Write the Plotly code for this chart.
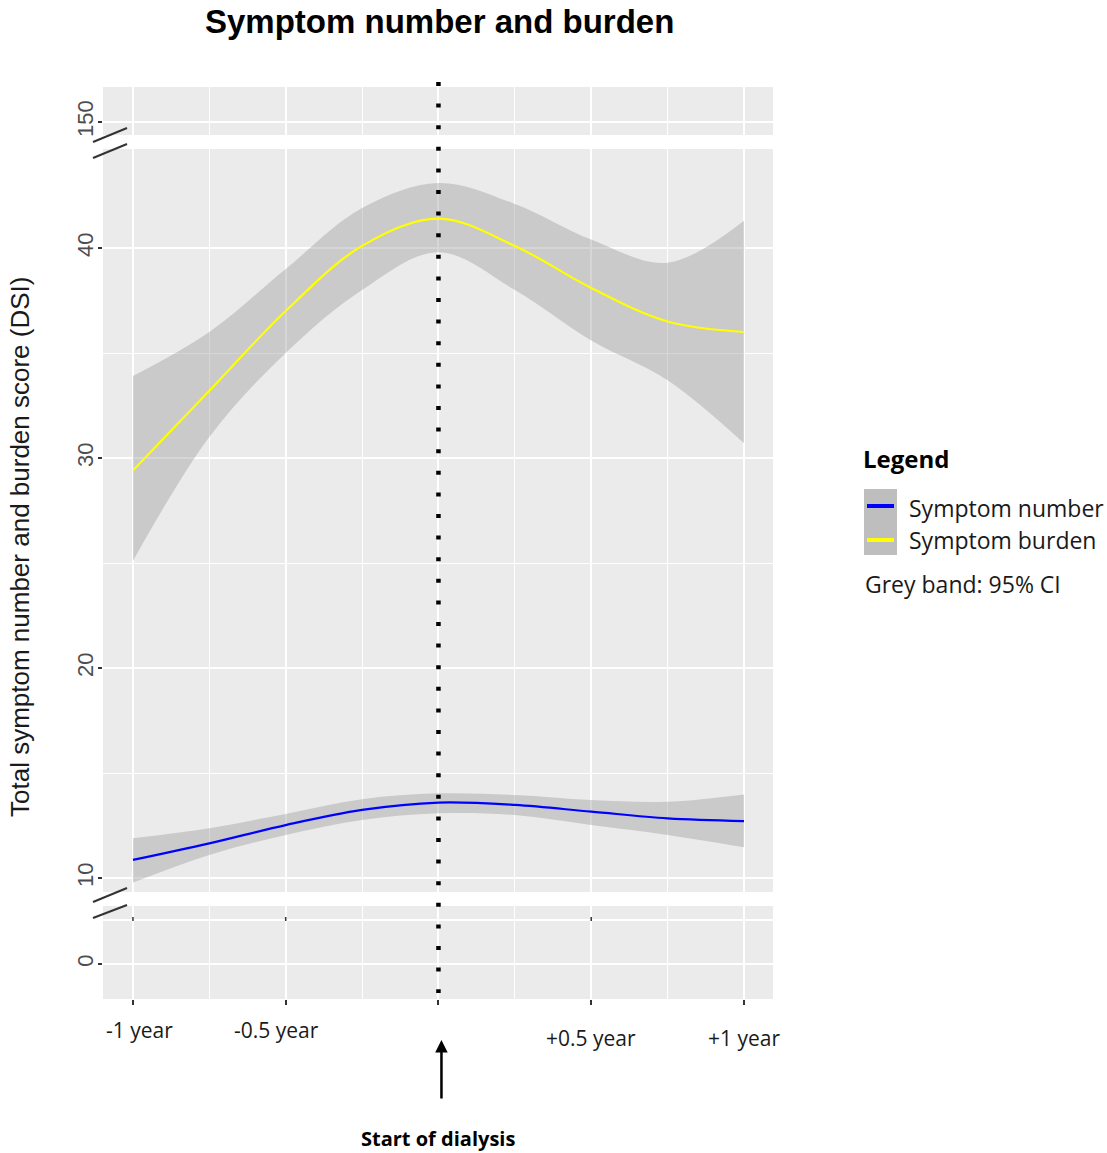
import plotly.graph_objects as go

# ---------------- data ----------------
x_years = [-1.0, -0.75, -0.5, -0.25, 0.0, 0.25, 0.5, 0.75, 1.0]

burden_fit = [29.4, 33.2, 37.0, 40.1, 41.4, 40.1, 38.1, 36.5, 36.0]
burden_upper = [33.9, 36.0, 39.0, 41.9, 43.1, 42.1, 40.4, 39.3, 41.3]
burden_lower = [25.1, 31.0, 35.0, 38.0, 39.8, 38.0, 35.6, 33.7, 30.7]

number_fit = [10.86, 11.65, 12.52, 13.24, 13.59, 13.48, 13.16, 12.84, 12.71]
number_upper = [11.89, 12.37, 13.05, 13.75, 14.03, 13.95, 13.71, 13.63, 13.98]
number_lower = [9.78, 11.10, 12.05, 12.76, 13.08, 13.00, 12.52, 12.05, 11.46]

x_tick_vals = [-1, -0.5, 0.5, 1]
x_tick_text = ["-1 year", "-0.5 year", "+0.5 year", "+1 year"]
y_top_ticks = [150]
y_mid_ticks = [10, 20, 30, 40]
y_bot_ticks = [0]

series_names = ["Symptom number", "Symptom burden"]
series_colors = ["#0000FF", "#FFFF00"]

# ---------------- figure geometry ----------------
W, H = 1107, 1153
L, R, T, B = 103, 334, 87, 154
PW, PH = W - L - R, H - T - B


def px_x(p):
    return (p - L) / PW


def px_y(p):
    return (H - B - p) / PH


PANEL = "#EBEBEB"
BAND = "rgba(153,153,153,0.4)"
ARIAL = "Liberation Sans, Arial, sans-serif"
CAL = "Open Sans, sans-serif"

fig = go.Figure()


def band(xs, up, lo, yaxis):
    fig.add_trace(go.Scatter(x=xs, y=up, mode="lines", line=dict(width=0, shape="spline"),
                             hoverinfo="skip", showlegend=False, xaxis="x2", yaxis=yaxis))
    fig.add_trace(go.Scatter(x=xs, y=lo, mode="lines", line=dict(width=0, shape="spline"),
                             fill="tonexty", fillcolor=BAND, hoverinfo="skip",
                             showlegend=False, xaxis="x2", yaxis=yaxis))


band(x_years, burden_upper, burden_lower, "y2")
band(x_years, number_upper, number_lower, "y2")
fig.add_trace(go.Scatter(x=x_years, y=number_fit, mode="lines", name=series_names[0],
                         line=dict(color=series_colors[0], width=2.2, shape="spline"),
                         showlegend=False, xaxis="x2", yaxis="y2"))
fig.add_trace(go.Scatter(x=x_years, y=burden_fit, mode="lines", name=series_names[1],
                         line=dict(color=series_colors[1], width=2.2, shape="spline"),
                         showlegend=False, xaxis="x2", yaxis="y2"))
# empty traces so the top and bottom panels exist
fig.add_trace(go.Scatter(x=[None], y=[None], xaxis="x", yaxis="y", showlegend=False))
fig.add_trace(go.Scatter(x=[None], y=[None], xaxis="x3", yaxis="y3", showlegend=False))

xr = [-1.098, 1.095]
xcommon = dict(range=xr, tick0=0, dtick=0.5, showgrid=True, gridcolor="white", gridwidth=2,
               minor=dict(tick0=0, dtick=0.25, showgrid=True, gridcolor="white", gridwidth=1.3),
               zeroline=False, showline=False, fixedrange=True)

fig.update_layout(
    xaxis=dict(**xcommon, anchor="y", ticks="outside", ticklen=5, tickwidth=1.5,
               tickcolor="#333333", showticklabels=False, domain=[0, 1]),
    xaxis2=dict(**xcommon, anchor="y2", showticklabels=False, ticks="", domain=[0, 1]),
    xaxis3=dict(**xcommon, anchor="y3", showticklabels=False, ticks="", domain=[0, 1]),
)

ycommon = dict(showgrid=True, gridcolor="white", gridwidth=2, zeroline=False, showline=False,
               ticks="outside", ticklen=4, tickwidth=1.5, tickcolor="#333333",
               tickangle=-90, tickfont=dict(family=ARIAL, size=22, color="#4D4D4D"),
               ticklabelstandoff=-4, fixedrange=True)

fig.update_layout(
    yaxis=dict(**ycommon, domain=[0, px_y(906)],
               range=[-(999 - 964) / 21, (964 - 906) / 21], tickvals=y_bot_ticks, anchor="x"),
    yaxis2=dict(**ycommon, domain=[px_y(892), px_y(149)],
                range=[10 - (892 - 878) / 21, 40 + (248 - 149) / 21],
                tickvals=y_mid_ticks,
                minor=dict(tick0=0, dtick=5, showgrid=True, gridcolor="white", gridwidth=1.3),
                anchor="x2"),
    yaxis3=dict(**ycommon, domain=[px_y(135), 1],
                range=[150 - 13 / 21, 150 + 35 / 21], tickvals=y_top_ticks, anchor="x3"),
)

shapes = []
shapes.append(dict(type="line", xref="paper", yref="paper", x0=0, x1=1,
                   y0=px_y(920), y1=px_y(920), line=dict(color="white", width=2), layer="below"))
for v in x_tick_vals[:3]:
    shapes.append(dict(type="line", xref="x", yref="paper", x0=v, x1=v,
                       y0=px_y(917), y1=px_y(921), line=dict(color="#333333", width=1.5)))
shapes.append(dict(type="line", xref="x", yref="paper", x0=0, x1=0,
                   y0=px_y(82), y1=px_y(993),
                   line=dict(color="black", width=4.5, dash="4px,17.6px"), layer="above"))
for (a, b) in [((93, 142), (127, 128)), ((93, 158), (127, 144)),
               ((93, 902), (127, 888)), ((93, 918), (127, 905))]:
    shapes.append(dict(type="line", xref="paper", yref="paper",
                       x0=px_x(a[0]), y0=px_y(a[1]), x1=px_x(b[0]), y1=px_y(b[1]),
                       line=dict(color="#333333", width=2)))
shapes.append(dict(type="rect", xref="paper", yref="paper", x0=px_x(864), x1=px_x(897),
                   y0=px_y(555), y1=px_y(489), fillcolor="#BEBEBE", line=dict(width=0)))
for yy, c in zip([506, 540], series_colors):
    shapes.append(dict(type="line", xref="paper", yref="paper", x0=px_x(867), x1=px_x(894),
                       y0=px_y(yy), y1=px_y(yy), line=dict(color=c, width=4)))

ann = []
ann.append(dict(text="<b>Symptom number and burden</b>", xref="paper", yref="paper",
                x=px_x(439), y=px_y(22), xanchor="center", yanchor="middle", showarrow=False,
                font=dict(family=ARIAL, size=33, color="black")))
ann.append(dict(text="Total symptom number and burden score (DSI)", xref="paper", yref="paper",
                x=px_x(20), y=px_y(547), textangle=-90, xanchor="center", yanchor="middle",
                showarrow=False, font=dict(family=ARIAL, size=26, color="#1A1A1A")))
label_shift = [7, -9, 0, 0]
label_y = [1030, 1030, 1038, 1038]
for v, t, sx, ly in zip(x_tick_vals, x_tick_text, label_shift, label_y):
    ann.append(dict(text=t, xref="x", yref="paper", x=v, y=px_y(ly), xshift=sx,
                    xanchor="center", yanchor="middle", showarrow=False,
                    font=dict(family=CAL, size=21, color="#1A1A1A")))
ann.append(dict(text="", xref="x", yref="paper", x=0, y=px_y(1040), xshift=3,
                ax=0, ay=60, showarrow=True, arrowhead=2, arrowsize=1, arrowwidth=2.5,
                arrowcolor="black"))
ann.append(dict(text="<b>Start of dialysis</b>", xref="x", yref="paper", x=0, y=px_y(1138),
                xanchor="center", yanchor="middle", showarrow=False,
                font=dict(family=CAL, size=20, color="black")))
ann.append(dict(text="<b>Legend</b>", xref="paper", yref="paper", x=px_x(861), y=px_y(458),
                xanchor="left", yanchor="middle", showarrow=False,
                font=dict(family=CAL, size=24, color="black")))
for yy, nm in zip([508, 540], series_names):
    ann.append(dict(text=nm, xref="paper", yref="paper", x=px_x(907), y=px_y(yy),
                    xanchor="left", yanchor="middle", showarrow=False,
                    font=dict(family=CAL, size=23, color="#1A1A1A")))
ann.append(dict(text="Grey band: 95% CI", xref="paper", yref="paper", x=px_x(863), y=px_y(584),
                xanchor="left", yanchor="middle", showarrow=False,
                font=dict(family=CAL, size=23, color="#1A1A1A")))

fig.update_layout(
    width=W, height=H, autosize=False,
    margin=dict(l=L, r=R, t=T, b=B, pad=0),
    paper_bgcolor="white", plot_bgcolor=PANEL,
    shapes=shapes, annotations=ann, showlegend=False,
)

fig.write_html("out.html", config={"displayModeBar": False},
               post_script="document.body.style.margin='0';document.body.style.overflow='hidden';")
